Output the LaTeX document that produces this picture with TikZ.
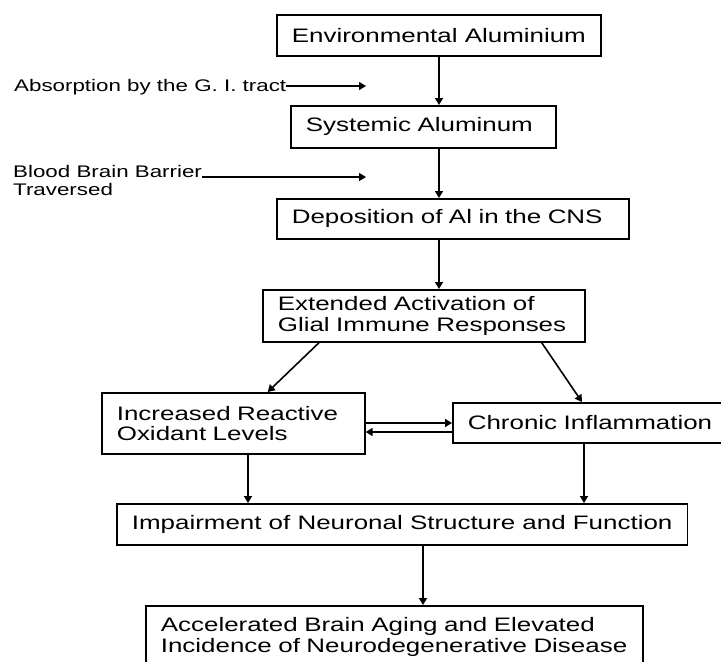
\documentclass[tikz,border=0pt]{standalone}
\usepackage{fontspec}
\setmainfont{Liberation Sans}[FakeStretch=1.33]
\usetikzlibrary{arrows.meta,calc}
\tikzset{
  box/.style={draw, line width=1.7pt, rectangle, anchor=north west, inner xsep=15pt, inner ysep=0pt,
    font=\fontsize{19.5}{20.5}\selectfont},
  mbox/.style={box, align=left},
  lbl/.style={inner sep=0pt, anchor=base west, font=\fontsize{16.8}{18}\selectfont},
  arr/.style={line width=1.6pt, -{Triangle[length=7pt,width=8pt]}},
}
\begin{document}
\begin{tikzpicture}[x=1pt,y=-1pt]
\useasboundingbox (0,0) rectangle (721,662);
% boxes
\node[box, minimum width=323pt, minimum height=41pt] (b1) at (276,14) {Environmental Aluminium};
\node[mbox, text width=235pt, minimum height=42pt] (b2) at (290,105) {Systemic Aluminum};
\node[mbox, text width=322pt, minimum height=40pt] (b3) at (276,198) {Deposition of Al in the CNS};
\node[mbox, text width=292pt, minimum height=52pt] (b4) at (262,289) {Extended Activation of\\Glial Immune Responses};
\node[mbox, text width=233pt, minimum height=61pt] (b5) at (101,392) {Increased Reactive\\Oxidant Levels};
\node[mbox, text width=275pt, minimum height=40pt] (b6) at (452,402) {Chronic Inflammation};
\node[box, minimum width=570pt, minimum height=41pt] (b7) at (116,503) {Impairment of Neuronal Structure and Function};
\node[mbox, text width=467pt, minimum height=62pt] (b8) at (145,605) {Accelerated Brain Aging and Elevated\\Incidence of Neurodegenerative Disease};
% side labels
\node[lbl] (la) at (14,91) {Absorption by the G. I. tract};
\node[lbl] (lb1) at (13,177) {Blood Brain Barrier};
\node[lbl] (lb2) at (13,195) {Traversed};
\coordinate (ca) at (366,86);
\coordinate (cb) at (366,177);
\draw[arr, line width=1.1pt] (la.base east |- ca) -- (ca);
\draw[arr, line width=1.1pt] (lb1.base east) -- (cb);
% main arrows
\draw[arr] ($(b1.south west)+(163,0)$) coordinate (x1) -- (x1 |- b2.north);
\draw[arr] (b2.south -| x1) -- (b3.north -| x1);
\draw[arr] (b3.south -| x1) -- (b4.north -| x1);
\draw[arr] ($(b4.south west)+(57,0)$) -- ($(b5.north east)+(-98,0)$);
\draw[arr] ($(b4.south east)+(-44,0)$) -- ($(b6.north west)+(130,0)$);
\draw[arr] ($(b5.north east)+(0,31)$) -- ($(b6.north west)+(0,21)$);
\draw[arr] ($(b6.north west)+(0,30)$) -- ($(b5.north east)+(0,40)$);
\draw[arr] ($(b5.south west)+(147,0)$) coordinate (x2) -- (x2 |- b7.north);
\draw[arr] ($(b6.south west)+(132,0)$) coordinate (x3) -- (x3 |- b7.north);
\draw[arr] ($(b7.south west)+(307,0)$) coordinate (x4) -- (x4 |- b8.north);
\end{tikzpicture}
\end{document}
